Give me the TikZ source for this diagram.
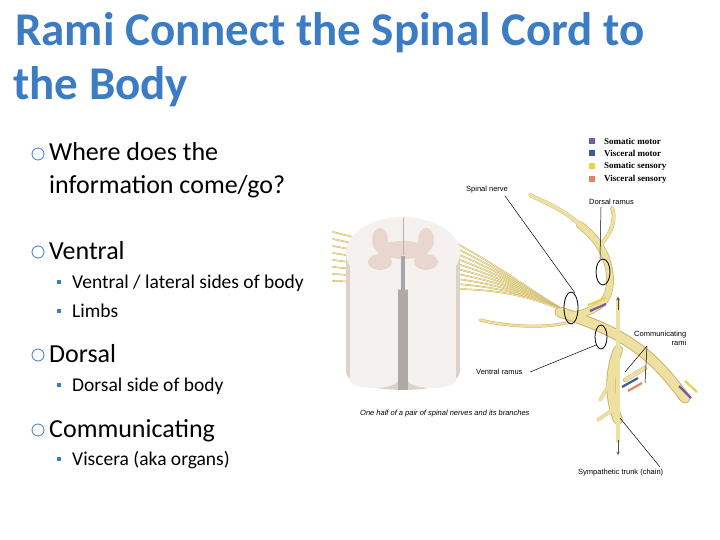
\documentclass[tikz,border=0pt]{standalone}
\usepackage{fontspec}
\setmainfont{Carlito}
\newfontfamily\lib{Liberation Sans}
\newfontfamily\libs{Liberation Serif}
\begin{document}
\begin{tikzpicture}[x=1pt,y=-1pt,
 ttl/.style={anchor=base west,text=titleblue,font=\bfseries\fontsize{47}{47}\selectfont,inner sep=0},
 bul/.style={anchor=base west,font=\fontsize{26}{30}\selectfont,inner sep=0,align=left},
 sub/.style={anchor=base west,font=\fontsize{19.5}{22}\selectfont,inner sep=0},
 lab/.style={font=\lib\fontsize{7.5}{9}\selectfont,inner sep=1},
 nerve/.style={draw=nerveedge,line width=#1,line cap=round},
 nervef/.style={draw=nervefill,line width=#1,line cap=round},
 ring/.style={draw=black,line width=0.8},
 pt/.style={draw=black,line width=0.5}]
\definecolor{titleblue}{HTML}{3B7CC4}
\definecolor{bulblue}{HTML}{3B7CC4}
\definecolor{nervefill}{HTML}{EDE0A0}
\definecolor{nerveedge}{HTML}{C9B56A}
\definecolor{cordw}{HTML}{F4F1EE}
\definecolor{cordg}{HTML}{E8D6CF}
\definecolor{cords}{HTML}{DCD2CA}
\useasboundingbox (0,0) rectangle (720,540);
\fill[white] (0,0) rectangle (720,540);
% title
\node[ttl] (t1) at (15,46) {Rami Connect the Spinal Cord to};
\node[ttl] (t2) at (13,100) {the Body};
% bullets
\foreach \n/\y/\t in {b1/161/Where does the, b3/259/Ventral, b4/362/Dorsal, b5/437/Communicating}{
  \node[bul] (\n) at (49,\y) {\t};
  \draw[bulblue,line width=0.8] (38,\y-7) circle (6);
}
\node[bul] (b2) at (49,194) {information come/go?};
\foreach \n/\y/\t in {s1/288/{Ventral / lateral sides of body}, s2/317/Limbs, s3/391/Dorsal side of body, s4/465/Viscera (aka organs)}{
  \node[sub] (\n) at (72,\y) {\t};
  \fill[bulblue] (57,\y-8) rectangle (61,\y-4);
}
% legend
\foreach \y/\c/\t in {141/7A5AA0/Somatic motor,153/3E5A9A/Visceral motor,166/E8D24A/Somatic sensory,179/E0885A/Visceral sensory}{
  \definecolor{tmp}{HTML}{\c}
  \fill[tmp] (589,\y-3) rectangle (595,\y+3);
  \node[anchor=west,font=\libs\bfseries\fontsize{9}{10}\selectfont,inner sep=0] at (604,\y) {\t};
}
% rootlets
\foreach \i in {0,...,9}{
  \draw[nerve=1.6] (440,235+\i*6) .. controls (510,270+\i*2) and (540,300) .. (580,318);
  \draw[nervef=0.9] (440,235+\i*6) .. controls (510,270+\i*2) and (540,300) .. (580,318);
}
\foreach \i in {0,...,7}{
  \draw[nerve=1.6] (333,232+\i*7) -- (365,240+\i*6);
  \draw[nervef=0.9] (333,232+\i*7) -- (365,240+\i*6);
}
% spinal cord cylinder
\fill[cords] (346,255) rectangle (460,372);
\fill[cords] (403,372) ellipse (57 and 18);
\fill[cordw] (350,255) rectangle (398,380);
\fill[cordw] (374,380) ellipse (24 and 8);
\fill[cordw] (408,255) rectangle (456,380);
\fill[cordw] (432,380) ellipse (24 and 8);
\fill[cordw] (403,253) ellipse (57 and 36);
% butterfly grey matter
\fill[cordg] (403,250) ellipse (26 and 9);
\fill[cordg] (380,240) ellipse (8 and 12);
\fill[cordg] (426,240) ellipse (8 and 12);
\fill[cordg] (380,262) ellipse (12 and 8);
\fill[cordg] (426,262) ellipse (12 and 8);
\draw[gray!60,line width=0.6] (403,218) -- (403,255);
\fill[gray!70] (401,256) rectangle (405,290);
\fill[cords!80!black] (398,290) rectangle (408,390);
% main nerve
\foreach \w/\s in {11/nerve,9/nervef}{
 \draw[\s=\w] (560,312) .. controls (600,325) and (620,335) .. (640,350) .. controls (660,365) and (675,385) .. (685,398);
 \draw[\s=\w*0.7] (575,315) .. controls (600,310) and (610,300) .. (610,280) .. controls (610,260) and (600,240) .. (580,225);
 \draw[\s=\w*0.35] (580,225) .. controls (565,210) and (540,200) .. (530,195);
 \draw[\s=\w*0.35] (600,245) .. controls (615,230) and (615,215) .. (612,208);
 \draw[\s=\w*0.45] (618,300) -- (618,440);
 \draw[\s=\w*0.9] (618,350) .. controls (608,375) and (610,400) .. (618,420);
 \draw[\s=\w*0.3] (612,380) -- (600,400);
 \draw[\s=\w*0.3] (612,410) -- (598,420);
 \draw[\s=\w*0.4] (625,380) -- (645,368);
}
\foreach \w/\s in {3/nerve,2/nervef}{
 \draw[\s=\w] (570,322) .. controls (540,330) and (500,325) .. (480,320);
}
% rings
\draw[ring] (571,308) ellipse (7 and 16);
\draw[ring] (603,272) ellipse (7 and 13);
\draw[ring] (601,337) ellipse (6 and 12);
% arrows
\draw[draw=black!70,line width=0.5,-stealth] (618,440) -- (618,455);
\draw[draw=black!70,line width=0.5,-stealth] (618,310) -- (618,297);
\definecolor{am}{HTML}{7A5AA0}\definecolor{vm}{HTML}{3E5A9A}\definecolor{ss}{HTML}{E8D24A}\definecolor{vs}{HTML}{E0885A}
\draw[ss,line width=2.2] (588,305) -- (606,298);
\draw[am,line width=2.2] (590,311) -- (606,304);
\draw[vm,line width=2.2] (638,378) -- (622,387);
\draw[vs,line width=2.2] (642,383) -- (628,391);
\draw[ss,line width=2.2] (685,381) -- (697,392);
\draw[am,line width=2.2] (679,386) -- (691,398);
% labels
\node[lab,anchor=west] (ln1) at (465,190) {Spinal nerve};
\draw[pt] (505,196) -- (575,293);
\node[lab,anchor=west] (ln2) at (588,202) {Dorsal ramus};
\draw[pt] (601,207) -- (600,259);
\node[lab,anchor=west,align=right] (ln3) at (633,338) {Communicating\\\hspace*{3em}rami};
\draw[pt] (647,346) -- (625,372);
\draw[pt] (647,346) -- (645,383);
\node[lab,anchor=west] (ln4) at (475,372) {Ventral ramus};
\draw[pt] (530,372) -- (596,345);
\node[lab,anchor=west,font=\lib\itshape\fontsize{7.5}{9}\selectfont] (ln5) at (359,414) {One half of a pair of spinal nerves and its branches};
\node[lab,anchor=west] (ln6) at (577,473) {Sympathetic trunk (chain)};
\draw[pt] (620,418) -- (660,467);
\end{tikzpicture}
\end{document}
